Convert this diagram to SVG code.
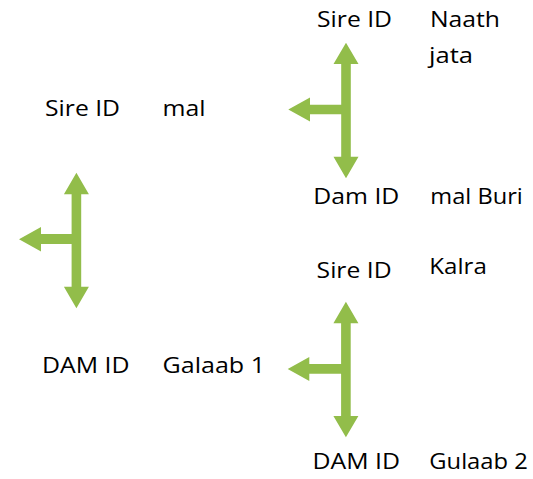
<svg xmlns="http://www.w3.org/2000/svg" width="533" height="479" viewBox="0 0 533 479">
<style>
  .lbl { font-family: "Open Sans", "Noto Sans", sans-serif; font-size: 22.5px; fill: #000000; }
  .arrow { fill: #92BD4A; stroke: none; }
</style>
<rect width="533" height="479" fill="#ffffff"/>
<g id="connectors">
  <polygon class="arrow" points="346,42.7 358.5,64 350.8,64 350.8,156.7 358.5,156.7 346,178.3 333.5,156.7 341.2,156.7 341.2,114.3 310,114.3 310,121.5 288.3,109.5 310,97.5 310,104.7 341.2,104.7 341.2,64 333.5,64"/>
  <polygon class="arrow" points="76.4,172.7 88.9,194.3 81.2,194.3 81.2,286.7 88.9,286.7 76.4,308.3 63.9,286.7 71.6,286.7 71.6,244 41,244 41,251.5 19,239.2 41,227 41,234 71.6,234 71.6,194.3 63.9,194.3"/>
  <polygon class="arrow" points="345.9,301.7 358.4,323.3 350.7,323.3 350.7,416 358.4,416 345.9,437.3 333.4,416 341.1,416 341.1,373.7 309.3,373.7 309.3,381 287.7,369 309.3,357 309.3,364 341.1,364 341.1,323.3 333.4,323.3"/>
</g>
<g id="node-sire-top">
  <text class="lbl" x="317" y="26.7" textLength="75" lengthAdjust="spacingAndGlyphs">Sire ID</text>
  <text class="lbl" x="430" y="26.7" textLength="70" lengthAdjust="spacingAndGlyphs">Naath</text>
  <text class="lbl" x="429" y="63.3" textLength="44" lengthAdjust="spacingAndGlyphs">jata</text>
</g>
<g id="node-sire-main">
  <text class="lbl" x="45" y="115.7" textLength="75" lengthAdjust="spacingAndGlyphs">Sire ID</text>
  <text class="lbl" x="162.5" y="115.7" textLength="43" lengthAdjust="spacingAndGlyphs">mal</text>
</g>
<g id="node-dam-top">
  <text class="lbl" x="313.3" y="204.3" textLength="86" lengthAdjust="spacingAndGlyphs">Dam ID</text>
  <text class="lbl" x="430.3" y="204.3" textLength="92.5" lengthAdjust="spacingAndGlyphs">mal Buri</text>
</g>
<g id="node-sire-bottom">
  <text class="lbl" x="316.6" y="278.3" textLength="75" lengthAdjust="spacingAndGlyphs">Sire ID</text>
  <text class="lbl" x="429.3" y="274.3" textLength="57.5" lengthAdjust="spacingAndGlyphs">Kalra</text>
</g>
<g id="node-dam-main">
  <text class="lbl" x="42" y="373.3" textLength="87.5" lengthAdjust="spacingAndGlyphs">DAM ID</text>
  <text class="lbl" x="162.5" y="373.3" textLength="102.5" lengthAdjust="spacingAndGlyphs">Galaab 1</text>
</g>
<g id="node-dam-bottom">
  <text class="lbl" x="312.6" y="469" textLength="87.5" lengthAdjust="spacingAndGlyphs">DAM ID</text>
  <text class="lbl" x="429.3" y="469" textLength="98.5" lengthAdjust="spacingAndGlyphs">Gulaab 2</text>
</g>
</svg>
